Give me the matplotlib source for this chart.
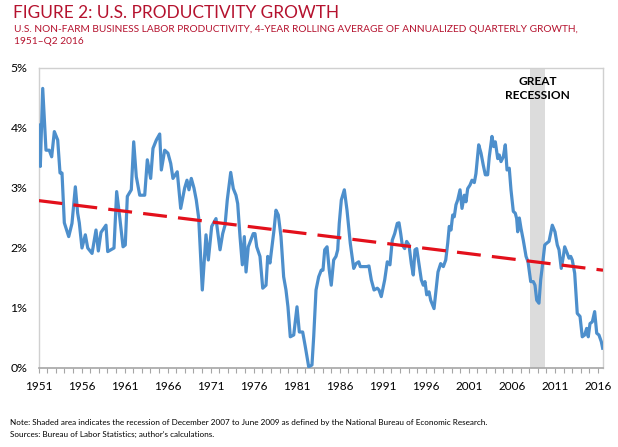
import matplotlib
matplotlib.use("Agg")
import matplotlib.pyplot as plt
from matplotlib.ticker import FixedLocator, MultipleLocator

plt.rcParams['font.family'] = ['Lato', 'DejaVu Sans']

# ---- data ----
years = [1951.02, 1951.21, 1951.49, 1951.87, 1952.25, 1952.53, 1952.84, 1953.23, 1953.50, 1953.73,
         1954.00, 1954.51, 1954.89, 1955.28, 1955.55, 1955.74, 1956.05, 1956.44, 1956.72, 1957.22,
         1957.68, 1957.95, 1958.26, 1958.84, 1959.04, 1959.77, 1960.08, 1960.43, 1960.82, 1961.08,
         1961.32, 1961.78, 1962.06, 1962.36, 1962.76, 1963.34, 1963.64, 1964.03, 1964.30, 1964.69,
         1965.08, 1965.27, 1965.66, 1966.04, 1966.36, 1966.62, 1967.12, 1967.52, 1967.98, 1968.25,
         1968.48, 1968.75, 1969.06, 1969.33, 1969.61, 1970.03, 1970.46, 1970.73, 1971.12, 1971.62,
         1972.09, 1972.40, 1972.67, 1972.93, 1973.33, 1973.63, 1973.94, 1974.14, 1974.41, 1974.68,
         1974.91, 1975.11, 1975.37, 1975.95, 1976.15, 1976.35, 1976.73, 1977.05, 1977.43, 1977.63,
         1977.89, 1978.36, 1978.59, 1978.86, 1979.17, 1979.48, 1979.75, 1979.98, 1980.25, 1980.65,
         1981.03, 1981.30, 1981.69, 1981.99, 1982.39, 1982.77, 1982.97, 1983.24, 1983.55, 1983.85,
         1984.05, 1984.25, 1984.52, 1984.78, 1985.01, 1985.29, 1985.56, 1985.76, 1985.94, 1986.18,
         1986.53, 1986.84, 1987.22, 1987.62, 1987.89, 1988.20, 1988.38, 1988.78, 1989.13, 1989.39,
         1989.66, 1989.98, 1990.36, 1990.56, 1990.82, 1991.22, 1991.52, 1991.83, 1992.10, 1992.38,
         1992.68, 1992.88, 1993.08, 1993.26, 1993.54, 1993.77, 1994.04, 1994.31, 1994.54, 1994.74,
         1994.94, 1995.20, 1995.47, 1995.70, 1995.90, 1996.10, 1996.37, 1996.56, 1996.95, 1997.14,
         1997.41, 1997.72, 1998.03, 1998.31, 1998.54, 1998.72, 1998.92, 1999.12, 1999.30, 1999.50,
         1999.70, 1999.97, 2000.20, 2000.47, 2000.66, 2000.86, 2001.13, 2001.36, 2001.63, 2001.82,
         2002.14, 2002.41, 2002.67, 2002.91, 2003.18, 2003.37, 2003.68, 2003.88, 2004.07, 2004.35,
         2004.53, 2004.73, 2005.00, 2005.23, 2005.43, 2005.69, 2005.89, 2006.16, 2006.39, 2006.55,
         2006.67, 2006.86, 2007.05, 2007.32, 2007.64, 2007.87, 2008.18, 2008.48, 2008.68, 2008.88,
         2009.14, 2009.34, 2009.53, 2009.81, 2010.04, 2010.31, 2010.69, 2011.00, 2011.27, 2011.47,
         2011.73, 2011.97, 2012.13, 2012.43, 2012.63, 2012.83, 2013.01, 2013.29, 2013.59, 2013.91,
         2014.17, 2014.45, 2014.68, 2014.87, 2015.07, 2015.34, 2015.61, 2015.85, 2016.11, 2016.38,
         2016.54]
growth = [4.05, 3.36, 4.66, 3.63, 3.63, 3.52, 3.94, 3.80, 3.25, 3.25,
          2.42, 2.19, 2.41, 3.02, 2.58, 2.42, 2.00, 2.22, 2.00, 1.91,
          2.30, 1.95, 2.26, 2.38, 1.94, 2.00, 2.94, 2.52, 2.02, 2.05,
          2.86, 2.97, 3.77, 3.19, 2.88, 2.88, 3.47, 3.16, 3.66, 3.80,
          3.90, 3.30, 3.63, 3.58, 3.41, 3.16, 3.27, 2.66, 3.00, 3.13,
          2.97, 3.16, 3.00, 2.80, 2.50, 1.30, 2.22, 1.80, 2.36, 2.49,
          1.97, 2.24, 2.38, 2.80, 3.26, 2.99, 2.88, 2.74, 2.19, 1.72,
          2.19, 1.60, 2.02, 2.24, 2.24, 2.02, 1.86, 1.33, 1.38, 1.86,
          1.75, 2.30, 2.63, 2.55, 2.19, 1.52, 1.30, 1.02, 0.52, 0.55,
          1.02, 0.60, 0.60, 0.36, 0.02, 0.05, 0.52, 1.30, 1.52, 1.63,
          1.63, 1.97, 2.02, 1.63, 1.38, 1.80, 1.86, 1.97, 2.41, 2.80,
          2.97, 2.63, 2.08, 1.66, 1.74, 1.77, 1.69, 1.69, 1.69, 1.70,
          1.47, 1.30, 1.33, 1.30, 1.19, 1.47, 1.77, 1.72, 2.13, 2.24,
          2.41, 2.42, 2.24, 2.05, 1.99, 2.11, 2.05, 1.74, 1.55, 1.97,
          1.99, 1.74, 1.47, 1.38, 1.44, 1.22, 1.27, 1.13, 0.99, 1.24,
          1.60, 1.74, 1.69, 1.80, 2.08, 2.36, 2.30, 2.55, 2.52, 2.72,
          2.80, 2.97, 2.66, 2.88, 2.77, 2.99, 3.05, 3.13, 3.09, 3.24,
          3.72, 3.58, 3.38, 3.22, 3.22, 3.52, 3.86, 3.69, 3.77, 3.49,
          3.55, 3.44, 3.52, 3.72, 3.30, 3.33, 2.97, 2.61, 2.58, 2.49,
          2.27, 2.50, 2.33, 2.13, 1.86, 1.77, 1.44, 1.44, 1.38, 1.13,
          1.08, 1.47, 1.69, 2.05, 2.08, 2.11, 2.38, 2.27, 2.05, 1.97,
          1.66, 1.86, 2.02, 1.91, 1.83, 1.86, 1.80, 1.58, 0.91, 0.86,
          0.52, 0.55, 0.66, 0.52, 0.74, 0.77, 0.94, 0.58, 0.55, 0.44,
          0.33]

trend_years = [1951.0, 2016.58]
trend_values = [2.79, 1.63]

recession = [2008.1, 2009.85]

xtick_years = [1951, 1956, 1961, 1966, 1971, 1976, 1981, 1986, 1991, 1996, 2001, 2006, 2011, 2016]
ytick_values = [0, 1, 2, 3, 4, 5]
ytick_labels = ['0%', '1%', '2%', '3%', '4%', '5%']

# ---- figure ----
W, H = 618, 447
fig = plt.figure(figsize=(W / 100, H / 100), dpi=100)
ax = fig.add_axes([38.5 / W, 1 - 368 / H, (603 - 38.5) / W, (368 - 68) / H])

ax.axvspan(recession[0], recession[1], color='#dcdcdc', lw=0, zorder=1)
ax.plot(years, growth, color='#4d8fcc', lw=2.3, solid_joinstyle='round', zorder=3)
ax.plot(trend_years, trend_values, color='#e3101b', lw=2.3, dashes=(7.5, 3.5),
        dash_capstyle='butt', zorder=4)

ax.set_xlim(1951.0, 2016.58)
ax.set_ylim(0, 5)

ax.xaxis.set_major_locator(FixedLocator(xtick_years))
ax.xaxis.set_minor_locator(MultipleLocator(1))
ax.set_xticklabels([str(y) for y in xtick_years], fontsize=8.5, color='black')
ax.set_yticks(ytick_values)
ax.set_yticklabels(ytick_labels, fontsize=8.8, color='black')

ax.tick_params(axis='x', which='both', direction='out', length=3.5, color='#a6a6a6', width=0.8, pad=6)
ax.tick_params(axis='y', which='both', length=0, pad=8)

for s in ['top', 'right', 'left']:
    ax.spines[s].set_color('#d0d0d0')
    ax.spines[s].set_linewidth(1.0)
ax.spines['bottom'].set_color('#a6a6a6')
ax.spines['bottom'].set_linewidth(1.2)

ax.text(2008.95, 4.86, 'GREAT\nRECESSION', ha='center', va='top', fontsize=8.6,
        fontweight='bold', color='black', linespacing=1.25)

red = '#b5122e'
fig.text(13 / W, 1 - 13 / H, 'FIGURE 2: U.S. PRODUCTIVITY GROWTH', fontsize=12.4,
         color=red, va='center', ha='left')
fig.text(14 / W, 1 - 29 / H,
         'U.S. NON-FARM BUSINESS LABOR PRODUCTIVITY, 4-YEAR ROLLING AVERAGE OF ANNUALIZED QUARTERLY GROWTH,',
         fontsize=7.3, color=red, va='center', ha='left')
fig.text(14 / W, 1 - 41 / H, '1951\u2013Q2 2016', fontsize=7.3, color=red, va='center', ha='left')

fig.text(10 / W, 1 - 423 / H,
         'Note: Shaded area indicates the recession of December 2007 to June 2009 as defined by the National Bureau of Economic Research.',
         fontsize=5.9, color='black', va='center', ha='left')
fig.text(10 / W, 1 - 434 / H, "Sources: Bureau of Labor Statistics; author\u2019s calculations.",
         fontsize=5.9, color='black', va='center', ha='left')

fig.savefig('out.png', dpi=100)
